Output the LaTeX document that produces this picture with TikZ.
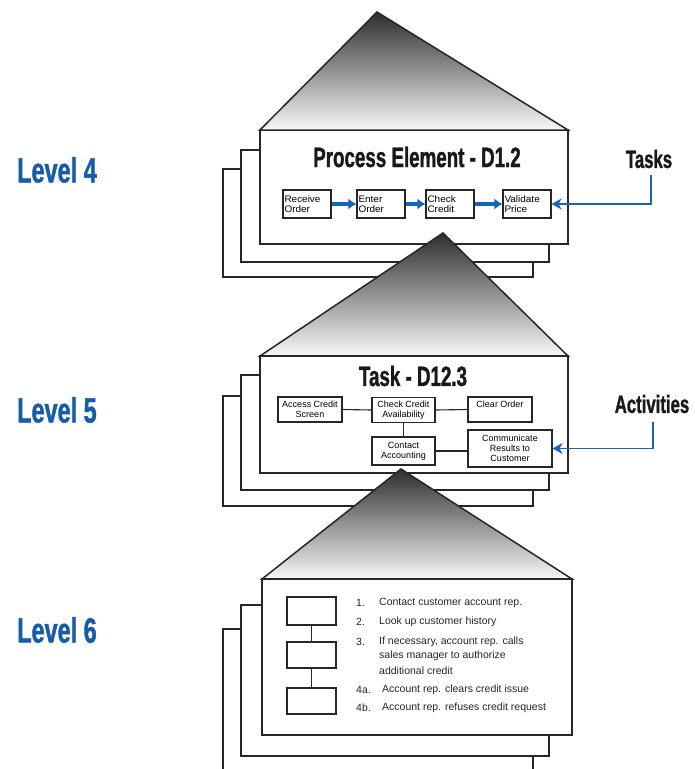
\documentclass[tikz,border=0pt]{standalone}
\usepackage{fontspec}
\setmainfont{Liberation Sans}
\newfontfamily\headfont[FakeStretch=0.67,FakeBold=1.2]{Liberation Sans}
\newfontfamily\stepfont[FakeStretch=1.05]{Liberation Sans}
\newfontfamily\actfont{Liberation Sans}
\usetikzlibrary{arrows.meta}

\definecolor{levelblue}{RGB}{22,92,168}
\definecolor{linkblue}{RGB}{24,100,186}
\definecolor{inkgray}{RGB}{25,25,25}

\tikzset{
  sheet/.style={draw=black!85, line width=1.5pt, fill=white},
  roof/.style={draw=black!85, line width=1.5pt, top color=black!82, bottom color=black!3},
  leveltag/.style={anchor=west, inner sep=0pt, text=levelblue,
    font=\headfont\bfseries\fontsize{35}{38}\selectfont},
  heading/.style={inner sep=0pt, text=inkgray,
    font=\headfont\bfseries\fontsize{28}{30}\selectfont},
  sidetag/.style={inner sep=0pt, text=inkgray,
    font=\headfont\bfseries\fontsize{25}{27}\selectfont},
  stepbox/.style={draw=black!85, line width=1.1pt, fill=white, minimum width=48pt,
    minimum height=28pt, text width=45pt, inner sep=1.5pt, align=left,
    font=\stepfont\fontsize{9.5}{10}\selectfont},
  actbox/.style={draw=black!85, line width=1.1pt, fill=white, inner sep=1pt,
    align=center, font=\actfont\fontsize{9}{10}\selectfont},
  blankbox/.style={draw=black!85, line width=1.3pt, fill=white, minimum width=49pt},
  flow/.style={draw=linkblue, line width=3.4pt, -{Latex[length=8pt,width=11pt]}},
  pointer/.style={draw=linkblue, line width=1.4pt, -{Stealth[length=10pt,width=11pt,inset=3pt]}},
  link/.style={draw=black!85, line width=1.1pt},
  listnum/.style={anchor=west, inner sep=0pt, text=black!85, font=\fontsize{10.5}{12}\selectfont},
  listtext/.style={anchor=west, inner sep=0pt, text=black!85, font=\fontsize{10.5}{12}\selectfont},
}

\begin{document}
\begin{tikzpicture}[x=1pt, y=-1pt]
\useasboundingbox (0,0) rectangle (695,769);
\clip (0,0) rectangle (695,769);

% ---------------- Level 4: process element ----------------
\draw[sheet] (223,169) rectangle (533,277);
\draw[sheet] (241,150) rectangle (549,262);
\draw[sheet] (260,130) rectangle (568,244);
\draw[roof] (260,130) -- (377,12) -- (568,130) -- cycle;

\node[heading] (pe) at (417,157) {Process Element - D1.2};

\node[stepbox] (recv) at (307,204) {Receive\\Order};
\node[stepbox] (entr) at (381,204) {Enter\\Order};
\node[stepbox] (chkc) at (450,204) {Check\\Credit};
\node[stepbox] (valp) at (527,204) {Validate\\Price};
\draw[flow] (recv.east) -- (entr.west);
\draw[flow] (entr.east) -- (chkc.west);
\draw[flow] (chkc.east) -- (valp.west);

\node[sidetag] (tasks) at (649,159) {Tasks};
\coordinate (tasksfoot) at (651,175);
\draw[pointer] (tasksfoot) |- (valp.east);

% ---------------- Level 5: task ----------------
\draw[roof] (260,356) -- (443,233) -- (568,356) -- cycle;
\draw[sheet] (223,396) rectangle (533,506);
\draw[sheet] (241,375) rectangle (549,490);
\draw[sheet] (260,356) rectangle (568,473);

\node[heading] (task) at (413,376) {Task - D12.3};

\node[actbox, minimum width=64pt, minimum height=25pt] (acs) at (310,409.5) {Access Credit\\Screen};
\node[actbox, minimum width=63pt, minimum height=25pt] (cca) at (403.5,410) {Check Credit\\Availability};
\node[actbox, minimum width=64pt, minimum height=25pt] (clr) at (500,409.5) {Clear Order\\\mbox{}};
\node[actbox, minimum width=63pt, minimum height=28pt] (cac) at (403.5,451) {Contact\\Accounting};
\node[actbox, minimum width=84pt, minimum height=37pt] (crc) at (510,448.5) {Communicate\\Results to\\Customer};
\draw[link] (acs.east) -- (cca.west);
\draw[link] (cca.east) -- (clr.west);
\draw[link] (cca.south) -- (cac.north);
\draw[link] (cac.east) -- (cac.east -| crc.west);

\node[sidetag] (acts) at (652,404) {Activities};
\coordinate (actsfoot) at (653,422);
\draw[pointer] (actsfoot) |- (crc.east);

% ---------------- Level 6: activity ----------------
\draw[roof] (262,579) -- (401,469) -- (572,579) -- cycle;
\draw[sheet] (223,629) rectangle (533,800);
\draw[sheet] (241,605) rectangle (549,756);
\draw[sheet] (262,579) rectangle (572,735);

\node[blankbox, minimum height=28pt] (act1) at (311.5,611) {};
\node[blankbox, minimum height=26pt] (act2) at (311.5,655) {};
\node[blankbox, minimum height=26pt] (act3) at (311.5,701) {};
\draw[link] (act1.south) -- (act2.north);
\draw[link] (act2.south) -- (act3.north);

\node[listnum] (n1) at (356,603) {1.};
\node[listtext] (t1) at (379,603) {Contact customer account rep.};
\node[listnum] (n2) at (356,622) {2.};
\node[listtext] (t2) at (379,622) {Look up customer history};
\node[listnum] (n3) at (356,642) {3.};
\node[listtext] (t3a) at (379,642) {If necessary, account rep. calls};
\node[listtext] (t3b) at (379,656) {sales manager to authorize};
\node[listtext] (t3c) at (379,671) {additional credit};
\node[listnum] (n4a) at (356,690) {4a.};
\node[listtext] (t4a) at (382,690) {Account rep. clears credit issue};
\node[listnum] (n4b) at (356,708) {4b.};
\node[listtext] (t4b) at (382,708) {Account rep. refuses credit request};

% ---------------- level tags ----------------
\node[leveltag] (lv4) at (17,170) {Level 4};
\node[leveltag] (lv5) at (17,410) {Level 5};
\node[leveltag] (lv6) at (17,630) {Level 6};
\end{tikzpicture}
\end{document}
